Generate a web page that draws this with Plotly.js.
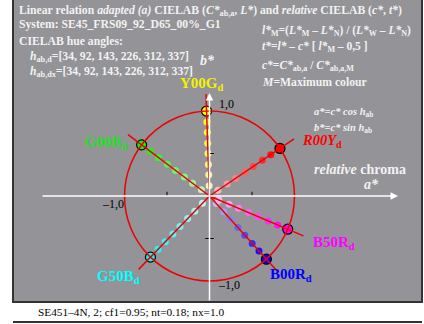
<!DOCTYPE html>
<html>
<head>
<meta charset="utf-8">
<script src="https://cdn.plot.ly/plotly-3.0.1.min.js"></script>
<style>
  html, body { margin: 0; padding: 0; background: #ffffff; }
  #plot { width: 424px; height: 324px; }
</style>
</head>
<body>
<div id="plot"></div>
<script>
// hue angles of the six elementary colours (degrees)
const hueNames = ['R00Y', 'Y00G', 'G00B', 'G50B', 'B00R', 'B50R'];
const hueAngles = [34, 92, 143, 226, 312, 337];
const hueColors = ['#ff0000', '#ffff00', '#00ff00', '#00ffff', '#0000ff', '#ff00ff'];
// relative chroma steps along each hue ray
const chromaSteps = [0.12, 0.25, 0.37, 0.5, 0.62, 0.75, 0.87, 1.0];

const W = 424, H = 324;
const cx = 209.5, cy = 196, unit = 85;   // centre and pixels per chroma unit
const px = x => x / W;
const py = y => 1 - y / H;
const rayLength = 1.2;
const serif = 'Liberation Serif, Times New Roman, serif';
const light = '#f2f2f2';

function rad(h) { return h * Math.PI / 180; }

// lighter tint of a colour toward white, used for the inner dots
function tint(hex, f) {
    const n = parseInt(hex.slice(1), 16);
    const ch = [(n >> 16) & 255, (n >> 8) & 255, n & 255];
    const base = 240;
    const m = ch.map(c => Math.round(base + (c - base) * f));
    return `rgb(${m[0]},${m[1]},${m[2]})`;
}

const traces = [];

// coloured dots along each ray
hueAngles.forEach((h, i) => {
    traces.push({
        x: chromaSteps.map(c => c * Math.cos(rad(h))),
        y: chromaSteps.map(c => c * Math.sin(rad(h))),
        mode: 'markers',
        marker: {
            size: 7,
            color: chromaSteps.map(c => tint(hueColors[i], Math.min(1, 0.1 + c * 0.95))),
            line: { width: 0 }
        },
        hoverinfo: 'skip',
        showlegend: false
    });
});

// maximum colour markers on the unit circle
traces.push({
    x: hueAngles.map(h => Math.cos(rad(h))),
    y: hueAngles.map(h => Math.sin(rad(h))),
    mode: 'markers',
    marker: { size: 10, color: hueColors, line: { color: '#000000', width: 1.2 } },
    hoverinfo: 'skip',
    showlegend: false
});

// red rays from the centre
hueAngles.forEach(h => {
    traces.push({
        x: [0, rayLength * Math.cos(rad(h))],
        y: [0, rayLength * Math.sin(rad(h))],
        mode: 'lines',
        line: { color: '#ee0000', width: 1.5 },
        hoverinfo: 'skip',
        showlegend: false
    });
});

function txt(x, y, text, opts = {}) {
    return Object.assign({
        xref: 'paper', yref: 'paper',
        x: px(x), y: py(y),
        xanchor: 'left', yanchor: 'middle',
        text: text, showarrow: false,
        font: { family: serif, size: 11.7, color: light }
    }, opts);
}

const small = { family: serif, size: 11.5, color: light };
const big = { family: serif, size: 14, color: light };

const annotations = [
    txt(17, 11, '<b>Linear relation <i>adapted (a)</i> CIELAB (<i>C*</i><sub>ab,a</sub>, <i>L*</i>) and <i>relative</i> CIELAB (<i>c*</i>, <i>t*</i>)</b>'),
    txt(17, 24, '<b>System: SE45_FRS09_92_D65_00%_G1</b>'),
    txt(17, 41, '<b>CIELAB hue angles:</b>'),
    txt(28, 57, '<b><i>h</i><sub>ab,d</sub>=[34, 92, 143, 226, 312, 337]</b>'),
    txt(28, 72, '<b><i>h</i><sub>ab,dx</sub>=[34, 92, 143, 226, 312, 337]</b>'),
    txt(198, 61, '<b><i>b*</i></b>', { font: big }),
    txt(260, 31, '<b><i>l*</i><sub>M</sub>=(<i>L*</i><sub>M</sub> – <i>L*</i><sub>N</sub>) / (<i>L*</i><sub>W</sub> – <i>L*</i><sub>N</sub>)</b>', { font: small }),
    txt(260, 47, '<b><i>t*</i>=<i>l*</i> – <i>c*</i> [ <i>l*</i><sub>M</sub> – 0,5 ]</b>', { font: small }),
    txt(260, 66, '<b><i>c*</i>=<i>C*</i><sub>ab,a</sub> / <i>C*</i><sub>ab,a,M</sub></b>', { font: small }),
    txt(260, 82, '<b><i>M</i>=Maximum colour</b>'),
    txt(312, 112, '<b><i>a*</i>=<i>c*</i> <i>cos h</i><sub>ab</sub></b>', { font: { family: serif, size: 10.5, color: light } }),
    txt(312, 128, '<b><i>b*</i>=<i>c*</i> <i>sin h</i><sub>ab</sub></b>', { font: { family: serif, size: 10.5, color: light } }),
    txt(312, 169, '<b><i>relative</i> chroma</b>', { font: big }),
    txt(362, 184, '<b><i>a*</i></b>', { font: big }),
    // hue labels
    txt(178, 84, '<b>Y00G<sub>d</sub></b>', { font: { family: serif, size: 15, color: '#f2f200' } }),
    txt(83, 143, '<b>G00B<sub>d</sub></b>', { font: { family: serif, size: 15, color: '#22e022' } }),
    txt(300, 141, '<b><i>R00Y</i><sub>d</sub></b>', { font: { family: serif, size: 14.5, color: '#ff0000' } }),
    txt(311, 243, '<b>B50R<sub>d</sub></b>', { font: { family: serif, size: 15, color: '#ff00ff' } }),
    txt(268, 275, '<b>B00R<sub>d</sub></b>', { font: { family: serif, size: 15, color: '#0000ff' } }),
    txt(95, 277, '<b>G50B<sub>d</sub></b>', { font: { family: serif, size: 15, color: '#00ffff' } }),
    // axis numbers
    txt(217, 104, '1,0', { font: { family: serif, size: 12, color: '#000000' } }),
    txt(100, 204, '–1,0', { font: { family: serif, size: 12, color: '#000000' } }),
    txt(216, 285, '–1,0', { font: { family: serif, size: 12, color: '#000000' } }),
    // footer
    txt(36, 312, 'SE451–4N, 2; cf1=0.95; nt=0.18; nx=1.0', { font: { family: serif, size: 11.3, color: '#000000' } }),
    // axis arrows
    {
        x: (398 - cx) / unit, y: 0, ax: (41 - cx) / unit, ay: 0,
        xref: 'x', yref: 'y', axref: 'x', ayref: 'y',
        text: '', showarrow: true, arrowhead: 2, arrowsize: 1, arrowwidth: 1.5, arrowcolor: '#ffffff'
    },
    {
        x: 0, y: (cy - 93) / unit, ax: 0, ay: (cy - 302) / unit,
        xref: 'x', yref: 'y', axref: 'x', ayref: 'y',
        text: '', showarrow: true, arrowhead: 2, arrowsize: 1, arrowwidth: 1.5, arrowcolor: '#ffffff'
    }
];

const shapes = [
    // grey panel
    {
        type: 'rect', xref: 'paper', yref: 'paper', layer: 'below',
        x0: px(13), x1: px(422), y0: py(302), y1: py(-2),
        fillcolor: '#939398', line: { color: '#333333', width: 2 }
    },
    // top edge of the next panel
    {
        type: 'line', xref: 'paper', yref: 'paper',
        x0: px(13), x1: px(422), y0: py(322), y1: py(322),
        line: { color: '#333333', width: 2 }
    },
    // unit circle
    {
        type: 'circle', xref: 'x', yref: 'y',
        x0: -1, x1: 1, y0: -1, y1: 1,
        line: { color: '#ee0000', width: 1.5 }
    },
    // small ticks at +-0.5
    { type: 'line', xref: 'x', yref: 'y', x0: -0.5, x1: -0.5, y0: 0, y1: 0.05, line: { color: '#000000', width: 1 } },
    { type: 'line', xref: 'x', yref: 'y', x0: 0.5, x1: 0.5, y0: 0, y1: 0.05, line: { color: '#000000', width: 1 } },
    { type: 'line', xref: 'x', yref: 'y', x0: 0, x1: 0.05, y0: 0.5, y1: 0.5, line: { color: '#000000', width: 1 } },
    { type: 'line', xref: 'x', yref: 'y', x0: -0.05, x1: 0.05, y0: -0.5, y1: -0.5, line: { color: '#000000', width: 1 } }
];

const layout = {
    width: W,
    height: H,
    margin: { l: 0, r: 0, t: 0, b: 0 },
    paper_bgcolor: '#ffffff',
    plot_bgcolor: 'rgba(0,0,0,0)',
    xaxis: { range: [-cx / unit, (W - cx) / unit], visible: false, fixedrange: true },
    yaxis: { range: [(cy - H) / unit, cy / unit], visible: false, fixedrange: true },
    annotations: annotations,
    shapes: shapes,
    showlegend: false
};

Plotly.newPlot('plot', traces, layout, { staticPlot: true });
</script>
</body>
</html>
